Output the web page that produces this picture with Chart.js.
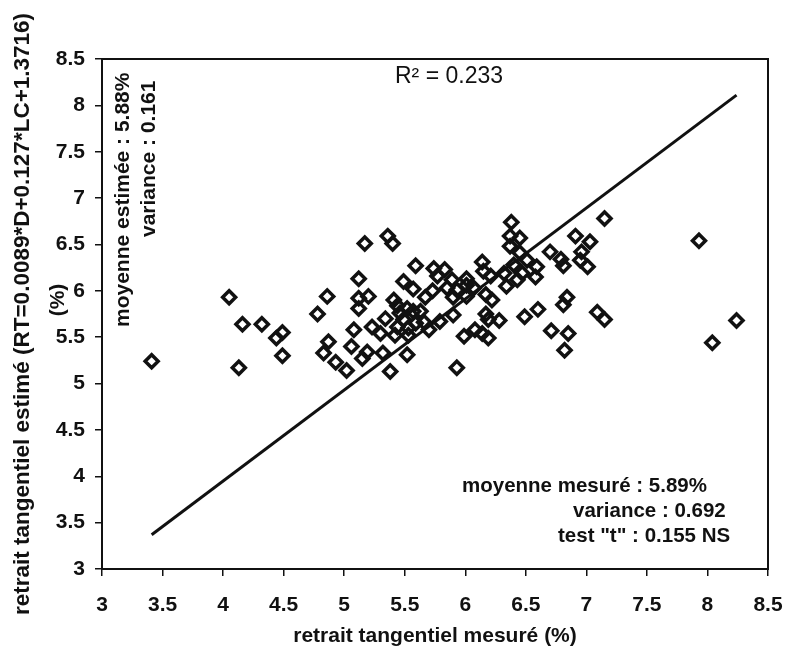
<!DOCTYPE html>
<html>
<head>
<meta charset="utf-8">
<script src="https://cdn.jsdelivr.net/npm/chart.js@4/dist/chart.umd.min.js"></script>
<style>
  html, body { margin: 0; padding: 0; background: #fff; }
  #wrap { width: 786px; height: 651px; }
</style>
</head>
<body>
<div id="wrap"><canvas id="myChart" width="786" height="651"></canvas></div>
<script>
var measured = [3.41, 4.05, 4.16, 4.32, 4.49, 4.44, 4.49, 4.13, 4.78, 4.86, 4.83, 4.87,
  5.17, 5.36, 5.40, 6.38, 6.37, 6.45, 6.37, 6.45, 5.59, 5.74, 5.83, 6.14, 6.15, 5.77,
  5.89, 6.01, 6.21, 6.32, 6.40, 6.47, 6.34, 6.43, 5.12, 5.49, 5.57, 5.73, 5.85, 5.93,
  6.01, 6.07, 6.17, 6.22, 5.67, 5.90, 6.01, 5.12, 5.20, 5.12, 5.41, 5.44, 5.34, 5.46,
  5.52, 5.57, 5.63, 5.49, 5.59, 5.66, 5.53, 5.44, 5.23, 5.30, 5.42, 5.53, 5.70, 5.79,
  5.90, 5.08, 4.93, 5.02, 5.06, 5.15, 5.19, 5.32, 5.52, 5.38, 5.93, 6.17, 6.19, 6.28,
  5.99, 6.08, 6.19, 6.14,
  7.15, 6.51, 6.59, 6.58, 6.70, 6.79, 6.81, 6.91, 7.03, 6.96, 6.95, 7.01, 7.93, 8.24,
  8.04, 6.49, 6.60, 6.84, 6.81, 7.09, 7.15, 6.71, 6.85, 6.82];
var estimated = [5.24, 5.93, 5.64, 5.64, 5.55, 5.49, 5.30, 5.17, 5.75, 5.94, 5.33, 5.45,
  6.51, 6.59, 6.51, 6.74, 6.59, 6.57, 6.48, 6.41, 6.27, 6.24, 6.23, 6.31, 6.21, 6.16,
  6.12, 6.13, 6.16, 6.19, 6.28, 6.19, 6.05, 6.12, 6.13, 6.10, 6.02, 6.00, 6.03, 6.01,
  6.06, 6.03, 5.96, 5.90, 5.93, 5.93, 5.94, 5.92, 5.94, 5.81, 5.90, 5.84, 5.70, 5.76,
  5.81, 5.78, 5.78, 5.69, 5.65, 5.66, 5.60, 5.61, 5.61, 5.54, 5.52, 5.52, 5.58, 5.67,
  5.74, 5.58, 5.23, 5.14, 5.40, 5.27, 5.34, 5.33, 5.31, 5.13, 5.17, 5.75, 5.69, 5.68,
  5.51, 5.58, 5.49, 5.54,
  6.78, 6.33, 6.26, 6.15, 6.42, 6.34, 6.27, 6.59, 6.53, 6.42, 6.33, 6.26, 6.54, 5.68,
  5.44, 5.72, 5.80, 5.93, 5.85, 5.77, 5.69, 5.57, 5.54, 5.36];

// fitted line end points
var lineX = [3.41, 8.24];
var lineY = [3.37, 8.11];

var axisMin = 3, axisMax = 8.5, axisStep = 0.5;

var FONT = '"Liberation Sans", Arial, sans-serif';

var pts = [];
for (var i = 0; i < measured.length; i++) pts.push({ x: measured[i], y: estimated[i] });
var linePts = [];
for (var j = 0; j < lineX.length; j++) linePts.push({ x: lineX[j], y: lineY[j] });

var notes = {
  id: 'notes',
  afterDraw: function (chart) {
    var ctx = chart.ctx;
    var a = chart.chartArea;
    ctx.save();
    // frame round the plot
    ctx.strokeStyle = '#111';
    ctx.lineWidth = 2;
    ctx.strokeRect(a.left, a.top, a.right - a.left, a.bottom - a.top);

    ctx.fillStyle = '#111';
    ctx.textBaseline = 'middle';
    ctx.textAlign = 'left';
    ctx.font = '23px ' + FONT;
    ctx.fillText('R\u00B2 = 0.233', 395, 77);

    ctx.font = 'bold 20.5px ' + FONT;
    ctx.fillText('moyenne mesur\u00E9 : 5.89%', 462, 486);
    ctx.fillText('variance : 0.692', 573, 511);
    ctx.fillText('test "t" : 0.155 NS', 558, 536);

    // rotated notes on the left
    ctx.save();
    ctx.translate(123, 327);
    ctx.rotate(-Math.PI / 2);
    ctx.font = 'bold 21px ' + FONT;
    ctx.fillText('moyenne estim\u00E9e : 5.88%', 0, 0);
    ctx.restore();

    ctx.save();
    ctx.translate(149, 237);
    ctx.rotate(-Math.PI / 2);
    ctx.font = 'bold 21px ' + FONT;
    ctx.fillText('variance : 0.161', 0, 0);
    ctx.restore();

    // second line of the y title
    ctx.save();
    ctx.translate(58, 300);
    ctx.rotate(-Math.PI / 2);
    ctx.textAlign = 'center';
    ctx.font = 'bold 21px ' + FONT;
    ctx.fillText('(%)', 0, 0);
    ctx.restore();

    ctx.restore();
  }
};

function plain(v) { return String(v); }

var myChart = new Chart(document.getElementById('myChart').getContext('2d'), {
  type: 'scatter',
  data: {
    datasets: [{
      label: 'mesures',
      data: pts,
      pointStyle: 'rectRot',
      pointRadius: 6.5,
      pointBorderWidth: 3.5,
      pointBorderColor: '#111',
      pointBackgroundColor: 'rgba(0,0,0,0)',
      showLine: false
    }, {
      label: 'droite',
      type: 'line',
      data: linePts,
      borderColor: '#111',
      borderWidth: 3,
      pointRadius: 0,
      fill: false
    }]
  },
  options: {
    responsive: false,
    animation: false,
    layout: { padding: { left: 0, top: 59, right: 18, bottom: 0 } },
    plugins: {
      legend: { display: false },
      tooltip: { enabled: false }
    },
    scales: {
      x: {
        type: 'linear',
        min: axisMin,
        max: axisMax,
        ticks: { stepSize: axisStep, callback: plain, color: '#111', padding: 17, font: { family: FONT, size: 21, weight: 'bold' } },
        grid: { drawOnChartArea: false, drawTicks: true, tickLength: 7, color: '#111', lineWidth: 1.5 },
        border: { display: true, color: '#111', width: 2 },
        title: { display: true, text: 'retrait tangentiel mesur\u00E9 (%)', color: '#111', padding: { top: 0, bottom: 2 },
                 font: { family: FONT, size: 21, weight: 'bold' } },
        afterFit: function (s) { s.height = 82; s.paddingLeft = 0; s.paddingRight = 0; }
      },
      y: {
        type: 'linear',
        min: axisMin,
        max: axisMax,
        ticks: { stepSize: axisStep, callback: plain, color: '#111', padding: 10, font: { family: FONT, size: 21, weight: 'bold' } },
        grid: { drawOnChartArea: false, drawTicks: true, tickLength: 7, color: '#111', lineWidth: 1.5 },
        border: { display: true, color: '#111', width: 2 },
        title: { display: true, text: 'retrait tangentiel estim\u00E9 (RT=0.0089*D+0.127*LC+1.3716)', color: '#111',
                 padding: { top: 9, bottom: 0 }, font: { family: FONT, size: 22.5, weight: 'bold' } },
        afterFit: function (s) { s.width = 102; s.paddingTop = 0; s.paddingBottom = 0; }
      }
    }
  },
  plugins: [notes]
});
</script>
</body>
</html>
